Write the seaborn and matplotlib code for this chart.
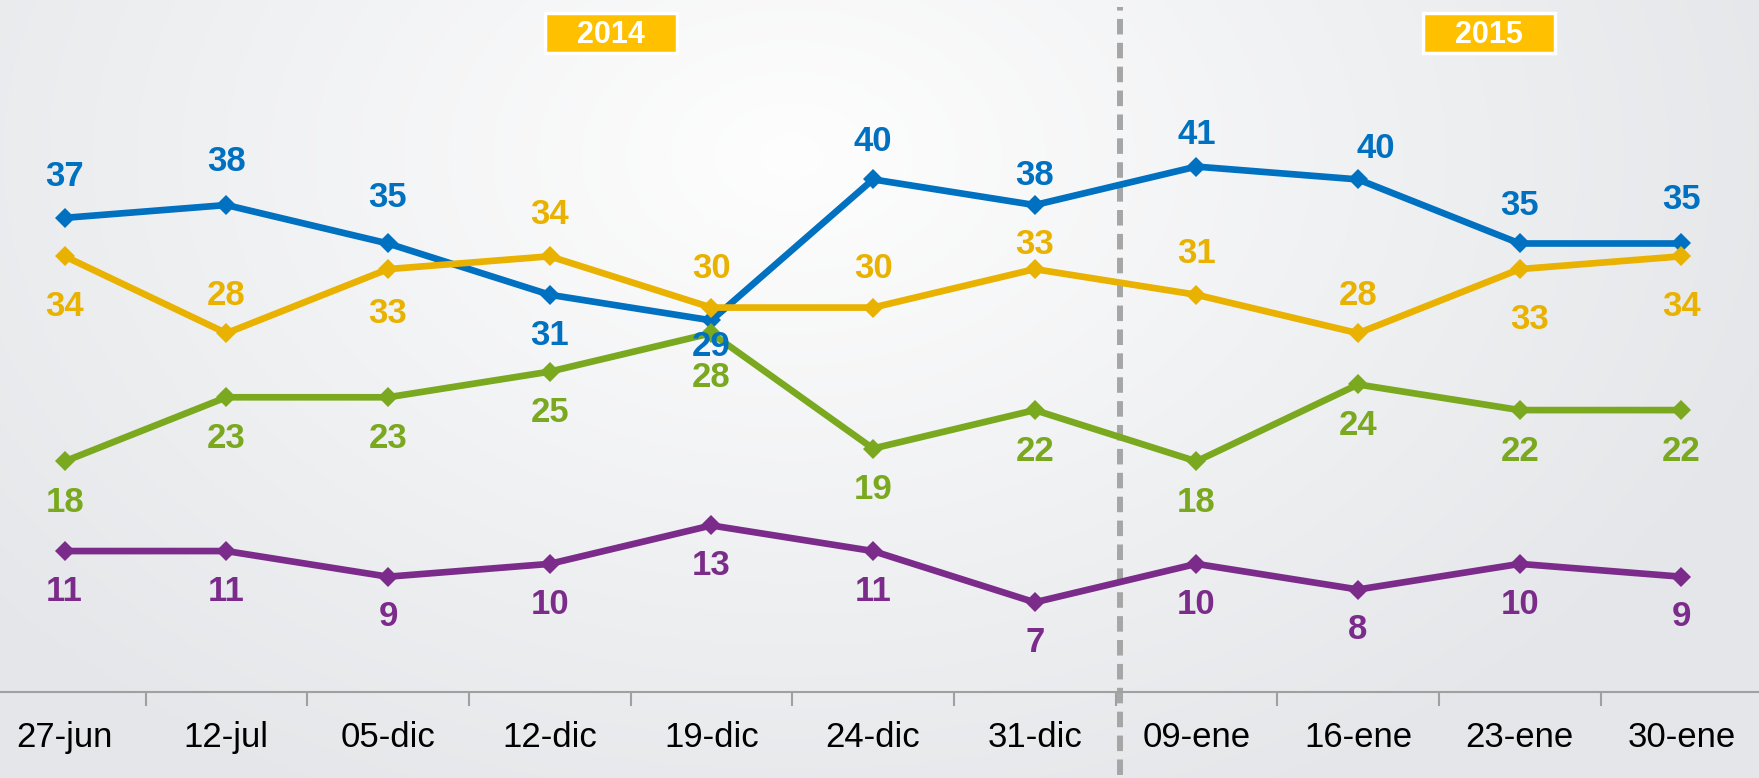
import numpy as np
import pandas as pd
import seaborn as sns
import matplotlib.pyplot as plt
from matplotlib.patches import Rectangle

# -----------------------
# Data
# -----------------------
fechas = ["27-jun", "12-jul", "05-dic", "12-dic", "19-dic", "24-dic",
          "31-dic", "09-ene", "16-ene", "23-ene", "30-ene"]
azul = [37, 38, 35, 31, 29, 40, 38, 41, 40, 35, 35]
amarillo = [34, 28, 33, 34, 30, 30, 33, 31, 28, 33, 34]
verde = [18, 23, 23, 25, 28, 19, 22, 18, 24, 22, 22]
morado = [11, 11, 9, 10, 13, 11, 7, 10, 8, 10, 9]

anios = ["2014", "2015"]

colores = {"azul": "#0070C0", "amarillo": "#E9B100",
           "verde": "#7AA81E", "morado": "#7B2C8A"}

# label offsets (points, + = up)
off_azul = [30, 31, 33, -29, -19, 27, 21, 23, 22, 27, 32]
off_amarillo = [-36, 27, -32, 30, 28, 28, 18, 30, 27, -36, -36]
off_verde = [-29.5, -29.5, -29.5, -29.5, -32, -29.5, -29.5, -29.5, -29.5, -29.5, -29.5]
off_morado = [-29] * 11
# small horizontal nudges (points)
dx = {("azul", 8): 13, ("amarillo", 9): 7}

series = {"azul": (azul, off_azul), "amarillo": (amarillo, off_amarillo),
          "verde": (verde, off_verde), "morado": (morado, off_morado)}

df = pd.concat([pd.DataFrame({"x": range(len(fechas)), "valor": v, "serie": k})
                for k, (v, _) in series.items()], ignore_index=True)

# -----------------------
# Setup
# -----------------------
sns.set_theme(style="white")
plt.rcParams["font.family"] = ["Liberation Sans", "DejaVu Sans"]

fig = plt.figure(figsize=(17.59, 7.78), dpi=100)

# background radial gradient
bg = fig.add_axes([0, 0, 1, 1], zorder=0)
yy, xx = np.mgrid[0:1:300j, 0:1:600j]
r = np.sqrt(((xx - 0.45) / 0.6) ** 2 + ((yy - 0.2) / 0.95) ** 2)
t = np.clip(r, 0, 1)[..., None]
centro = np.array([0.995, 0.995, 0.995])
borde = np.array([0.895, 0.902, 0.914])
bg.imshow(centro * (1 - t) + borde * t, extent=[0, 1, 1, 0], aspect="auto")
bg.axis("off")

ax = fig.add_axes([0, 0.1105, 1, 0.8895], zorder=1)
ax.patch.set_alpha(0)

sns.lineplot(data=df, x="x", y="valor", hue="serie", palette=colores,
             marker="D", markersize=10.5, markeredgewidth=0, linewidth=4.8,
             sort=False, legend=False, ax=ax)

for k, (v, offs) in series.items():
    for i, (val, o) in enumerate(zip(v, offs)):
        ax.annotate(str(val), (i, val), xytext=(dx.get((k, i), 0), o),
                    textcoords="offset points", ha="center", va="center",
                    fontsize=25, fontweight="bold", color=colores[k])

ax.set_xlim(-0.40, 10.48)
ax.set_ylim(0, 54)

# separator 2014 / 2015
ax.axvline(6.53, ymin=-0.12, ymax=0.99, color="#A6A6A6", linewidth=4.3,
           dashes=(2.6, 1.4), clip_on=False, zorder=0.5)

for txt, xc in zip(anios, [3.38, 8.81]):
    ax.add_patch(Rectangle((xc - 0.41, 51.42 - 1.56), 0.82, 3.12, fc="#FFC000",
                           ec="white", lw=2.5, zorder=3))
    ax.text(xc, 51.3, txt, ha="center", va="center", fontsize=22,
            fontweight="bold", color="white", zorder=4)

ax.set_xticks(range(len(fechas)))
ax.set_xticklabels(fechas, fontsize=25)
ax.set_xticks(np.arange(0.5, len(fechas) - 1, 1), minor=True)
ax.tick_params(axis="x", which="major", length=0, pad=21, colors="black")
ax.tick_params(axis="x", which="minor", length=10, width=1.5, color="#A0A0A0",
               direction="out", bottom=True)
ax.set_yticks([])
ax.set_xlabel("")
ax.set_ylabel("")
for s in ["top", "left", "right"]:
    ax.spines[s].set_visible(False)
ax.spines["bottom"].set_color("#A0A0A0")
ax.spines["bottom"].set_linewidth(1.5)

fig.savefig("out.png", dpi=100)
